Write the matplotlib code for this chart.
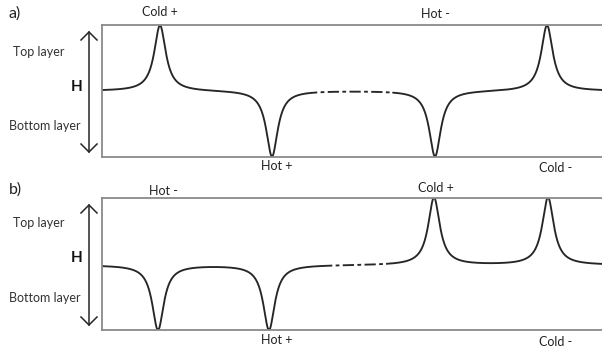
import numpy as np
import matplotlib
matplotlib.use("Agg")
import matplotlib.pyplot as plt

# Feature positions (percent of box width) and signed amplitudes (+1 = peak to top, -1 = dip to bottom)
a_centers = [11.6, 34.0, 66.6, 89.0]
a_signs = [1, -1, -1, 1]
a_dash = (40.8, 58.2)
a_base = 0.0

b_centers = [11.2, 33.4, 66.4, 89.2]
b_signs = [-1, -1, 1, 1]
b_dash = (43.8, 57.0)
b_base = -0.02

# Annotation texts per panel: (label, x px, y px)
a_labels = [("Cold +", 160, 12), ("Hot -", 435, 14), ("Hot +", 277, 166), ("Cold -", 556, 168)]
b_labels = [("Hot -", 163, 191), ("Cold +", 436, 188), ("Hot +", 277, 340), ("Cold -", 556, 342)]

W, H = 602, 349
DPI = 100
FONT = ["Lato", "DejaVu Sans"]
LINE = "#262626"
BOX = "#8a8a8a"

fig = plt.figure(figsize=(W / DPI, H / DPI), dpi=DPI)
fig.patch.set_facecolor("white")


def profile(x, centers, signs, base, width=1.4):
    y = np.full_like(x, base)
    for c, s in zip(centers, signs):
        y += s * (1 - s * base) / (1 + ((x - c) / width) ** 2)
    return y


def panel(top_px, bottom_px, centers, signs, dash, base):
    left, right = 102, 602
    ax = fig.add_axes([left / W, 1 - bottom_px / H, (right - left) / W, (bottom_px - top_px) / H])
    ax.set_xlim(0, 100)
    ax.set_ylim(-1, 1)
    ax.set_xticks([])
    ax.set_yticks([])
    ax.patch.set_alpha(0)
    for side in ("left", "top", "bottom"):
        ax.spines[side].set_color(BOX)
        ax.spines[side].set_linewidth(1.3)
    ax.spines["right"].set_visible(False)
    x = np.linspace(0, 100, 5000)
    y = profile(x, centers, signs, base)
    y = np.clip(y, -0.995, 0.995)
    m1 = x <= dash[0]
    m2 = (x >= dash[0]) & (x <= dash[1])
    m3 = x >= dash[1]
    ax.plot(x[m1], y[m1], color=LINE, lw=1.35, solid_capstyle="round")
    ax.plot(x[m2], y[m2], color=LINE, lw=1.35, linestyle=(0, (6, 1.8, 2, 1.8)))
    ax.plot(x[m3], y[m3], color=LINE, lw=1.35, solid_capstyle="round")
    return ax


panel(25, 156.7, a_centers, a_signs, a_dash, a_base)
panel(197.5, 330, b_centers, b_signs, b_dash, b_base)

# Overlay in pixel coordinates for labels and height arrows
ov = fig.add_axes([0, 0, 1, 1])
ov.set_xlim(0, W)
ov.set_ylim(H, 0)
ov.axis("off")
ov.patch.set_alpha(0)

for tag, ty, arrow_top, arrow_bot, top_y, h_y, bot_y, labels in [
    ("a)", 14, 32, 152, 52, 87, 126, a_labels),
    ("b)", 190, 205, 325, 223, 258, 298, b_labels),
]:
    ov.text(15, ty, tag, fontsize=11.5, family=FONT, ha="center", va="center", color="#222222")
    ov.text(39, top_y, "Top layer", fontsize=9, family=FONT, ha="center", va="center", color="#333333")
    ov.text(77, h_y, "H", fontsize=11, family=FONT, weight="bold", ha="center", va="center", color="#111111")
    ov.text(45, bot_y, "Bottom layer", fontsize=9, family=FONT, ha="center", va="center", color="#333333")
    ov.plot([89, 89], [arrow_top, arrow_bot], color=LINE, lw=1.1)
    ov.plot([81, 89, 97], [arrow_top + 8, arrow_top, arrow_top + 8], color=LINE, lw=1.1)
    ov.plot([81, 89, 97], [arrow_bot - 8, arrow_bot, arrow_bot - 8], color=LINE, lw=1.1)
    for s, lx, ly in labels:
        ov.text(lx, ly, s, fontsize=9, family=FONT, ha="center", va="center", color="#222222")

fig.savefig("out.png", dpi=DPI)
